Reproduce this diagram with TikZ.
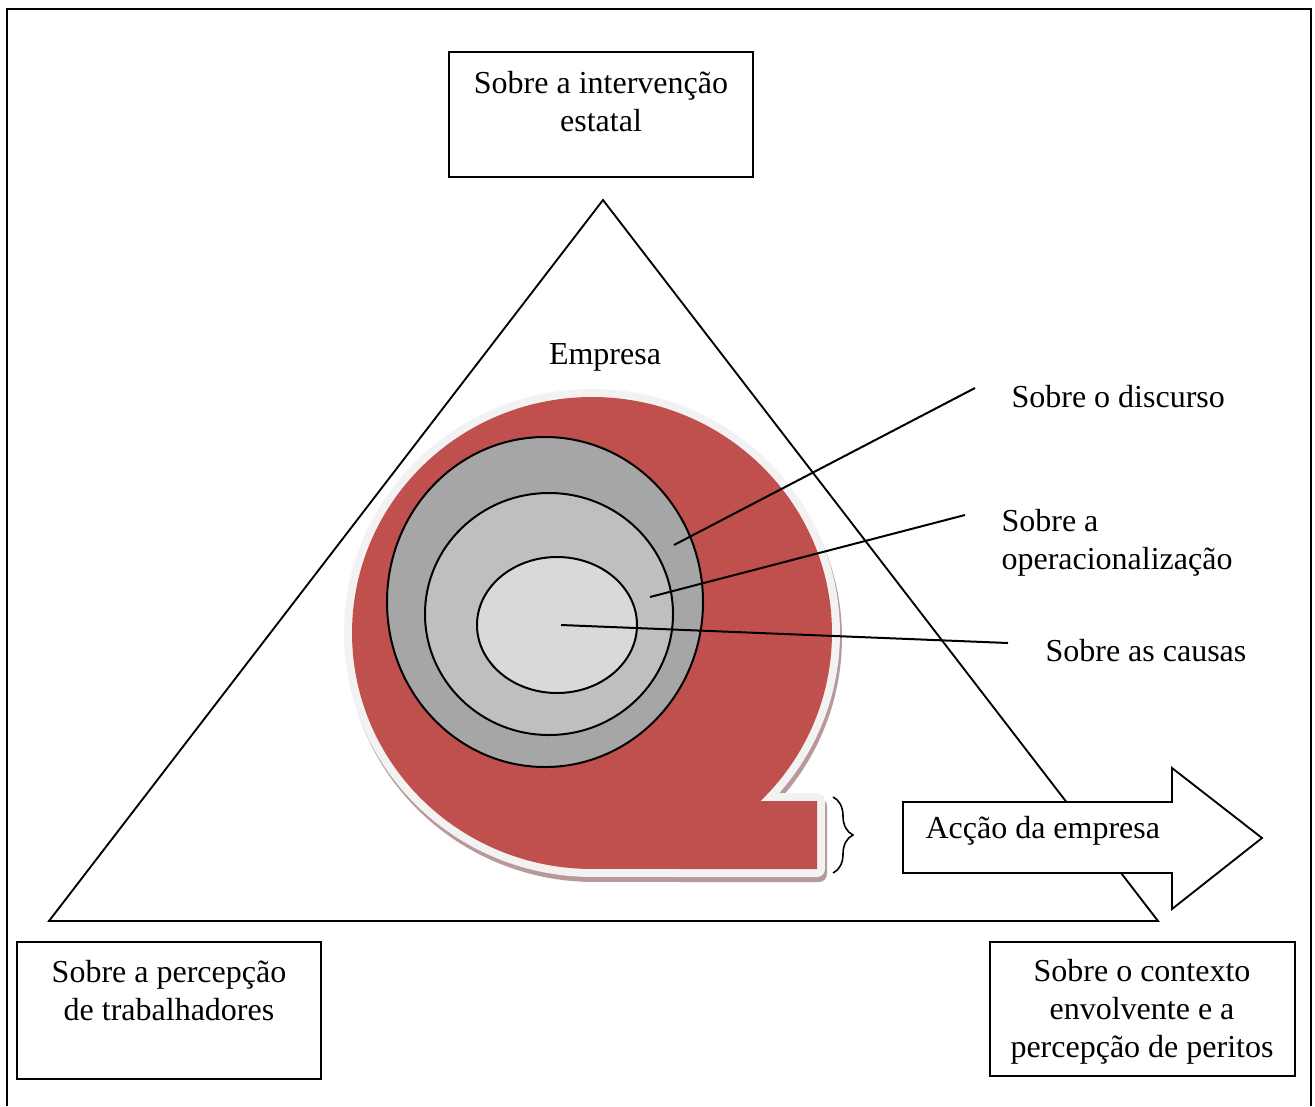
\documentclass[tikz,border=0pt]{standalone}
\usepackage{fontspec}
\setmainfont{Liberation Serif}
\usetikzlibrary{decorations.pathreplacing}
\definecolor{redfill}{HTML}{C0504D}
\definecolor{rimcol}{HTML}{F2F2F2}
\definecolor{shadowcol}{HTML}{B89898}
\definecolor{ringA}{HTML}{A6A6A6}
\definecolor{ringB}{HTML}{BFBFBF}
\definecolor{ringC}{HTML}{D9D9D9}
\begin{document}
\begin{tikzpicture}[x=0.375pt,y=0.375pt,
  font=\fontsize{12pt}{14.25pt}\selectfont,
  box/.style={draw, line width=0.7pt, fill=white},
  txt/.style={inner sep=0pt, align=center},
  lbl/.style={inner sep=0pt, align=left, anchor=west},
  ring/.style={draw, line width=0.75pt},
  leader/.style={line width=0.75pt},
  blob/.style={insert path={(817,-801) -- (760.5,-801)
      arc[start angle=-45.4, end angle=270, x radius=240, y radius=236]
      -- (817,-869) -- cycle}}]
\useasboundingbox (0,0) rectangle (1315,-1106);

% outer frame (open at the bottom edge)
\draw[line width=1pt] (7,-1106) -- (7,-9) -- (1311,-9) -- (1311,-1106);

% large triangle
\coordinate (apex) at (603,-200);
\coordinate (bl) at (49,-921);
\coordinate (br) at (1158,-921);
\draw[line width=0.7pt] (apex) -- (br) -- (bl) -- cycle;

% corner boxes
\draw[box] (449,-52) rectangle (753,-177);
\node[txt] (estatal) at (601,-102) {Sobre a intervenção\\estatal};
\draw[box] (17,-942) rectangle (321,-1079);
\node[txt] (trab) at (169,-991) {Sobre a percepção\\de trabalhadores};
\draw[box] (990,-942) rectangle (1295,-1076);
\node[txt] (peritos) at (1142,-1012) {Sobre o contexto\\envolvente e a\\percepção de peritos};

% company label
\node[txt] (empresa) at (605,-357) {Empresa};

% red body with light rim and soft shadow
\path[shift={(2,-5)}, fill=shadowcol, draw=shadowcol, line width=6pt, line join=round, blob];
\path[draw=rimcol, line width=6pt, line join=round, blob];
\path[fill=redfill, blob];

% nested rings
\draw[ring, fill=ringA] (545,-602) ellipse [x radius=158, y radius=165];
\draw[ring, fill=ringB] (549,-614) ellipse [x radius=124, y radius=121];
\draw[ring, fill=ringC] (557,-625) ellipse [x radius=80, y radius=68];

% labels and leader lines
\node[lbl] (discurso) at (1011,-397) {Sobre o discurso};
\node[lbl] (operac) at (1001,-543) {Sobre a\\operacionalização};
\node[lbl] (causas) at (1045,-651) {Sobre as causas};
\coordinate (d1) at (975,-388); \coordinate (d2) at (674,-545);
\coordinate (o1) at (965,-515); \coordinate (o2) at (650,-597);
\coordinate (c1) at (1008,-643); \coordinate (c2) at (561,-625);
\draw[leader] (d1) -- (d2);
\draw[leader] (o1) -- (o2);
\draw[leader] (c1) -- (c2);

% brace next to the tail
\draw[line width=0.6pt, decorate, decoration={brace, amplitude=7.5pt}] (833,-797) -- (833,-873);

% action arrow
\draw[line width=0.7pt, fill=white] (903,-802) -- (1172,-802) -- (1172,-768) -- (1262,-838)
  -- (1172,-909) -- (1172,-873) -- (903,-873) -- cycle;
\node[lbl] (accao) at (925,-831) {Acção da empresa};
\end{tikzpicture}
\end{document}
